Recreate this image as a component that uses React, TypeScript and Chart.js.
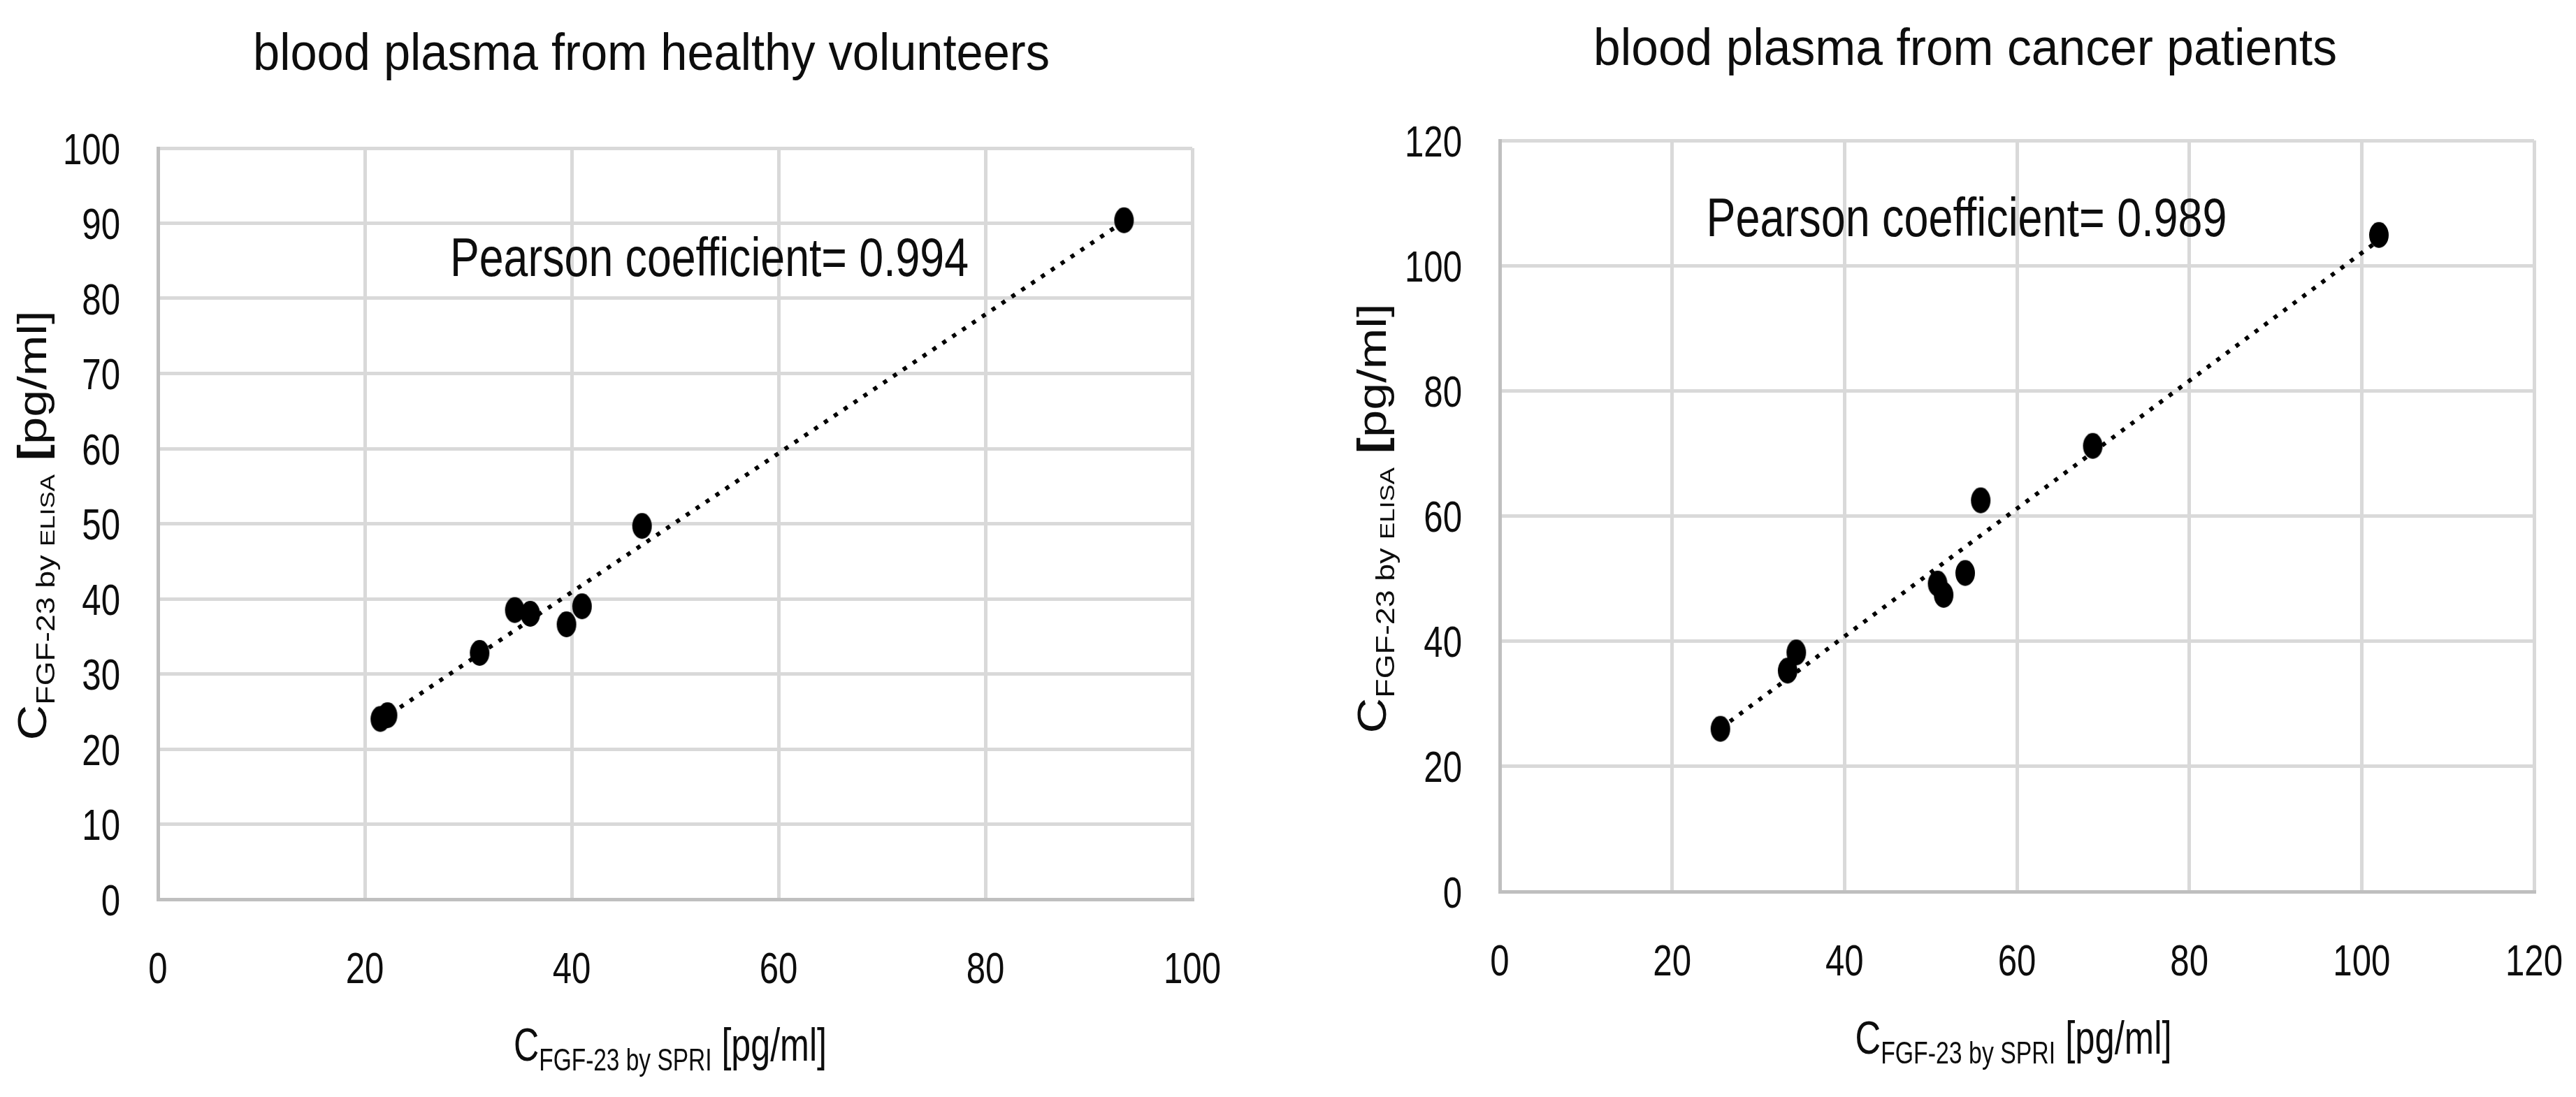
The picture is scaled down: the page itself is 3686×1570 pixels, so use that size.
import React, { useEffect, useRef } from 'react';
import { Chart, registerables } from 'chart.js';

Chart.register(...registerables);

// ---------- data ----------
const healthySpri = [21.5, 22.2, 31.1, 34.5, 36.0, 39.5, 41.0, 46.8, 93.4];
const healthyElisa = [24.0, 24.5, 32.8, 38.5, 38.0, 36.6, 39.0, 49.7, 90.4];
const cancerSpri = [25.6, 33.4, 34.4, 50.8, 51.5, 54.0, 55.8, 68.8, 102.0];
const cancerElisa = [26.0, 35.3, 38.2, 49.2, 47.4, 50.9, 62.5, 71.2, 104.9];

const healthyXTicks = [0, 20, 40, 60, 80, 100];
const healthyYTicks = [0, 10, 20, 30, 40, 50, 60, 70, 80, 90, 100];
const cancerXTicks = [0, 20, 40, 60, 80, 100, 120];
const cancerYTicks = [0, 20, 40, 60, 80, 100, 120];

const chartTitles = ['blood plasma from healthy volunteers', 'blood plasma from cancer patients'];
const pearsonLabels = ['Pearson coefficient= 0.994', 'Pearson coefficient= 0.989'];
const xTitleSub = 'FGF-23 by SPRI';
const yTitleSub = 'FGF-23 by ';
const yTitleSub2 = 'ELISA';
const unitLabel = 'pg/ml';

// ---------- styling ----------
const FONT = '"Liberation Sans", Arial, "DejaVu Sans", sans-serif';
const TEXT = '#0d0d0d';
const TICK_SX = 0.78;
const W = 1843;
const H = 1570;

type Part = { t: string; size: number; dy?: number; bold?: boolean };

function fontOf(p: Part) {
  return `${p.bold ? 'bold ' : ''}${p.size}px ${FONT}`;
}

// draws a run of text parts centred on cx, squeezed/stretched to targetWidth
function drawParts(ctx: CanvasRenderingContext2D, parts: Part[], cx: number, baseY: number, targetWidth?: number) {
  const widths = parts.map((p) => {
    ctx.font = fontOf(p);
    return ctx.measureText(p.t).width;
  });
  const total = widths.reduce((a, b) => a + b, 0);
  const stretch = targetWidth ? targetWidth / total : 1;
  ctx.save();
  ctx.translate(cx, baseY);
  ctx.scale(stretch, 1);
  ctx.fillStyle = TEXT;
  ctx.textBaseline = 'alphabetic';
  ctx.textAlign = 'left';
  let x = -total / 2;
  parts.forEach((p, i) => {
    ctx.font = fontOf(p);
    ctx.fillText(p.t, x, p.dy || 0);
    x += widths[i];
  });
  ctx.restore();
}

type Layout = {
  title: string;
  titleCx: number;
  titleBase: number;
  titleW: number;
  pearson: string;
  pearsonCx: number;
  pearsonBase: number;
  pearsonW: number;
  xTitleCx: number;
  xTitleBase: number;
  xTitleW: number;
  yTitleBaseX: number;
  yTitleCy: number;
  yTitleW: number;
};

function textPlugin(l: Layout) {
  return {
    id: 'customText',
    afterDraw(chart: any) {
      const ctx: CanvasRenderingContext2D = chart.ctx;
      ctx.save();
      // tick labels (positions come from the library's own scales)
      const xs = chart.scales.x;
      const ys = chart.scales.y;
      ctx.fillStyle = TEXT;
      ctx.font = `63px ${FONT}`;
      ctx.textBaseline = 'alphabetic';
      xs.ticks.forEach((t: any) => {
        const px = xs.getPixelForValue(t.value);
        ctx.save();
        ctx.translate(px, xs.top + 120);
        ctx.scale(TICK_SX, 1);
        ctx.textAlign = 'center';
        ctx.fillText(String(t.value), 0, 0);
        ctx.restore();
      });
      ys.ticks.forEach((t: any) => {
        const py = ys.getPixelForValue(t.value);
        ctx.save();
        ctx.translate(ys.right - 54, py + 22.5);
        ctx.scale(TICK_SX, 1);
        ctx.textAlign = 'right';
        ctx.fillText(String(t.value), 0, 0);
        ctx.restore();
      });
      // title
      drawParts(ctx, [{ t: l.title, size: 75 }], l.titleCx, l.titleBase, l.titleW);
      // pearson annotation
      drawParts(ctx, [{ t: l.pearson, size: 77 }], l.pearsonCx, l.pearsonBase, l.pearsonW);
      // x axis title
      drawParts(
        ctx,
        [
          { t: 'C', size: 66 },
          { t: xTitleSub, size: 44, dy: 14 },
          { t: ' [' + unitLabel + ']', size: 66 },
        ],
        l.xTitleCx,
        l.xTitleBase,
        l.xTitleW
      );
      // y axis title (rotated)
      ctx.save();
      ctx.translate(l.yTitleBaseX, l.yTitleCy);
      ctx.rotate(-Math.PI / 2);
      drawParts(
        ctx,
        [
          { t: 'C', size: 58 },
          { t: yTitleSub, size: 37, dy: 12 },
          { t: yTitleSub2, size: 30, dy: 12 },
          { t: ' ', size: 58 },
          { t: '[', size: 58, bold: true },
          { t: unitLabel + ']', size: 58 },
        ],
        0,
        0,
        l.yTitleW
      );
      ctx.restore();
      ctx.restore();
    },
  };
}

function makeEllipse(): HTMLCanvasElement {
  const c = document.createElement('canvas');
  c.width = 30;
  c.height = 39;
  const g = c.getContext('2d')!;
  g.fillStyle = '#000';
  g.beginPath();
  g.ellipse(15, 19.5, 14, 18.5, 0, 0, Math.PI * 2);
  g.fill();
  return c;
}

function regression(xs: number[], ys: number[]) {
  const n = xs.length;
  const mx = xs.reduce((a, b) => a + b, 0) / n;
  const my = ys.reduce((a, b) => a + b, 0) / n;
  let sxy = 0;
  let sxx = 0;
  for (let i = 0; i < n; i++) {
    sxy += (xs[i] - mx) * (ys[i] - my);
    sxx += (xs[i] - mx) * (xs[i] - mx);
  }
  const b = sxy / sxx;
  const a = my - b * mx;
  const x0 = Math.min(...xs);
  const x1 = Math.max(...xs);
  return [
    { x: x0, y: a + b * x0 },
    { x: x1, y: a + b * x1 },
  ];
}

type Cfg = {
  xs: number[];
  ys: number[];
  xTicks: number[];
  yTicks: number[];
  pad: { top: number; right: number };
  yAxisW: number;
  xAxisH: number;
  layout: Layout;
};

function buildChart(canvas: HTMLCanvasElement, cfg: Cfg) {
  const pts = cfg.xs.map((x, i) => ({ x, y: cfg.ys[i] }));
  const ellipse = makeEllipse();
  const grid = { color: '#d9d9d9', lineWidth: 5, drawTicks: false };
  const border = { color: '#bfbfbf', width: 5 };
  const xStep = cfg.xTicks[1] - cfg.xTicks[0];
  const yStep = cfg.yTicks[1] - cfg.yTicks[0];
  return new Chart(canvas, {
    type: 'scatter',
    data: {
      datasets: [
        {
          data: pts,
          pointStyle: ellipse as any,
          pointRadius: 15,
          backgroundColor: '#000',
          borderColor: '#000',
          order: 0,
        },
        {
          type: 'line',
          data: regression(cfg.xs, cfg.ys),
          borderColor: '#000',
          borderWidth: 6,
          borderDash: [6, 11],
          borderCapStyle: 'butt',
          pointRadius: 0,
          fill: false,
          order: 1,
        } as any,
      ],
    },
    options: {
      animation: false,
      responsive: false,
      devicePixelRatio: 1,
      layout: { padding: { top: cfg.pad.top, right: cfg.pad.right, left: 0, bottom: 0 } },
      plugins: { legend: { display: false }, tooltip: { enabled: false }, title: { display: false } },
      scales: {
        x: {
          type: 'linear',
          min: cfg.xTicks[0],
          max: cfg.xTicks[cfg.xTicks.length - 1],
          grid,
          border,
          ticks: { stepSize: xStep, display: false },
          afterFit: (s: any) => {
            s.height = cfg.xAxisH;
          },
        },
        y: {
          type: 'linear',
          min: cfg.yTicks[0],
          max: cfg.yTicks[cfg.yTicks.length - 1],
          grid,
          border,
          ticks: { stepSize: yStep, display: false },
          afterFit: (s: any) => {
            s.width = cfg.yAxisW;
          },
        },
      },
    },
    plugins: [textPlugin(cfg.layout)],
  } as any);
}

export default function App() {
  const leftRef = useRef<HTMLCanvasElement>(null);
  const rightRef = useRef<HTMLCanvasElement>(null);

  useEffect(() => {
    const c1 = buildChart(leftRef.current!, {
      xs: healthySpri,
      ys: healthyElisa,
      xTicks: healthyXTicks,
      yTicks: healthyYTicks,
      pad: { top: 212, right: 137 },
      yAxisW: 226,
      xAxisH: 283,
      layout: {
        title: chartTitles[0],
        titleCx: 932,
        titleBase: 100,
        titleW: 1140,
        pearson: pearsonLabels[0],
        pearsonCx: 1015,
        pearsonBase: 395,
        pearsonW: 742,
        xTitleCx: 959,
        xTitleBase: 1518,
        xTitleW: 448,
        yTitleBaseX: 66,
        yTitleCy: 752,
        yTitleW: 615,
      },
    });
    const c2 = buildChart(rightRef.current!, {
      xs: cancerSpri,
      ys: cancerElisa,
      xTicks: cancerXTicks,
      yTicks: cancerYTicks,
      pad: { top: 201, right: 60 },
      yAxisW: 303,
      xAxisH: 294,
      layout: {
        title: chartTitles[1],
        titleCx: 969,
        titleBase: 93,
        titleW: 1064,
        pearson: pearsonLabels[1],
        pearsonCx: 971,
        pearsonBase: 338,
        pearsonW: 745,
        xTitleCx: 1038,
        xTitleBase: 1508,
        xTitleW: 453,
        yTitleBaseX: 140,
        yTitleCy: 742,
        yTitleW: 615,
      },
    });
    return () => {
      c1.destroy();
      c2.destroy();
    };
  }, []);

  return (
    <div style={{ position: 'absolute', left: 0, top: 0, width: W * 2, height: H, background: '#fff' }}>
      <canvas ref={leftRef} width={W} height={H} style={{ position: 'absolute', left: 0, top: 0, width: W, height: H }} />
      <canvas ref={rightRef} width={W} height={H} style={{ position: 'absolute', left: W, top: 0, width: W, height: H }} />
    </div>
  );
}
